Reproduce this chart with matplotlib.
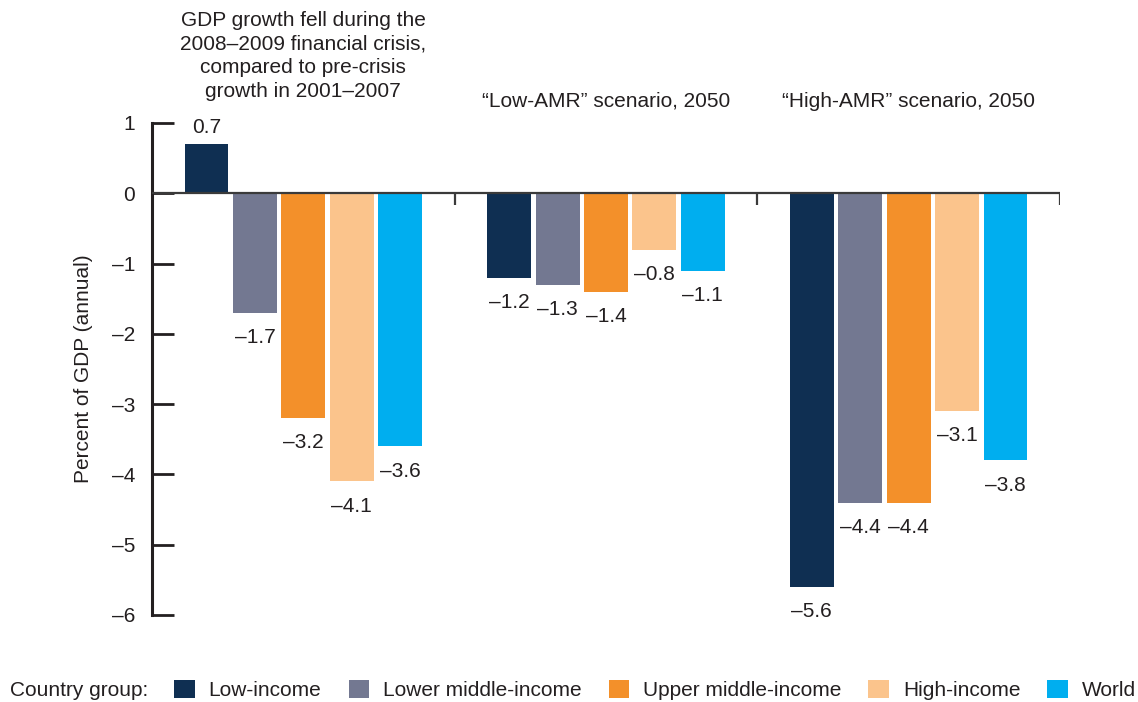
import numpy as np
import matplotlib
matplotlib.use("Agg")
import matplotlib.pyplot as plt
from matplotlib.patches import Patch

plt.rcParams['font.family'] = ['Liberation Sans', 'DejaVu Sans']

groups = ["GDP growth fell during the\n2008\u20132009 financial crisis,\ncompared to pre-crisis\ngrowth in 2001\u20132007",
          "\u201cLow-AMR\u201d scenario, 2050",
          "\u201cHigh-AMR\u201d scenario, 2050"]
series = ["Low-income", "Lower middle-income", "Upper middle-income", "High-income", "World"]
colors = ["#0f2f52", "#737891", "#f3902a", "#fbc48c", "#00aeef"]
values = [
    [0.7, -1.7, -3.2, -4.1, -3.6],   # crisis
    [-1.2, -1.3, -1.4, -0.8, -1.1],  # low-AMR
    [-5.6, -4.4, -4.4, -3.1, -3.8],  # high-AMR
]
yticks = [1, 0, -1, -2, -3, -4, -5, -6]

FS = 15
dark = "#231f20"

fig = plt.figure(figsize=(11.38, 7.02), dpi=100)
ax = fig.add_axes([152/1138, 1 - 615/702, 908/1138, 492/702])

step = 0.16
width = 0.145
x = np.arange(len(groups))
vals = np.array(values)

for i, name in enumerate(series):
    pos = x + (i - 2) * step
    bars = ax.bar(pos, vals[:, i], width=width, color=colors[i], zorder=2)
    for b, v in zip(bars, vals[:, i]):
        lab = f"{v:.1f}".replace("-", "\u2013")
        cx = b.get_x() + b.get_width() / 2
        if v >= 0:
            ax.annotate(lab, (cx, v), xytext=(0, 5), textcoords="offset points",
                        ha="center", va="bottom", fontsize=FS, color=dark)
        else:
            ax.annotate(lab, (cx, v), xytext=(0, -11), textcoords="offset points",
                        ha="center", va="top", fontsize=FS, color=dark)

ax.set_xlim(-0.5, 2.5)
ax.set_ylim(-6, 1)
ax.axhline(0, color="#3a3a3a", lw=1.6, zorder=3)
ax.vlines([0.5, 1.5, 2.5], -0.17, 0, color="#3a3a3a", lw=1.6, zorder=3)

for s in ["top", "right", "bottom"]:
    ax.spines[s].set_visible(False)
ax.spines["left"].set_color(dark)
ax.spines["left"].set_linewidth(2.2)
ax.set_xticks([])
ax.set_yticks(yticks)
ax.set_yticklabels([str(t).replace("-", "\u2013") for t in yticks])
ax.tick_params(axis="y", direction="in", length=15.5, width=2, color=dark,
               labelsize=FS, labelcolor=dark, pad=12)
ax.set_ylabel("Percent of GDP (annual)", fontsize=FS, color=dark, labelpad=14)

# group titles
ax.text(0, 1.045, groups[0], transform=ax.get_xaxis_transform(), ha="center",
        va="bottom", fontsize=FS, color=dark, linespacing=1.3)
ax.text(1, 1.31, groups[1], ha="center", va="center", fontsize=FS, color=dark)
ax.text(2, 1.31, groups[2], ha="center", va="center", fontsize=FS, color=dark)

# legend
fig.text(10/1138, 1 - 690/702, "Country group:", fontsize=FS, color=dark,
         ha="left", va="center")
handles = [Patch(facecolor=c, edgecolor="none") for c in colors]
fig.legend(handles, series, loc="center right", bbox_to_anchor=(1.0, 1 - 690/702),
           ncol=5, frameon=False, fontsize=FS, handlelength=1.0, handleheight=1.0,
           handletextpad=0.65, columnspacing=1.3, borderaxespad=0.0,
           borderpad=0.1, labelcolor=dark)

fig.savefig("out.png", dpi=100)
